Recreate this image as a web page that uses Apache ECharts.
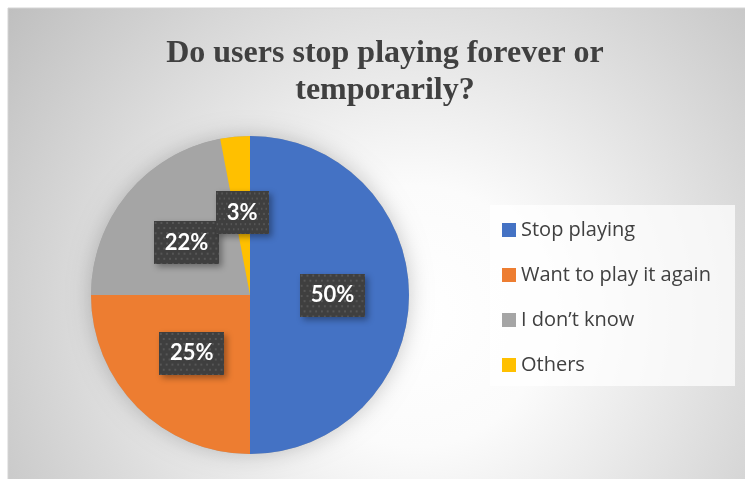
<!DOCTYPE html>
<html>
<head>
<meta charset="utf-8">
<script src="https://cdn.jsdelivr.net/npm/echarts@6/dist/echarts.min.js"></script>
<style>
  html, body { margin: 0; padding: 0; background: #ffffff; }
  #chart { width: 745px; height: 479px; }
</style>
</head>
<body>
<div id="chart"></div>
<script>
// Survey answers
const categories = ['Stop playing', 'Want to play it again', 'I don\u2019t know', 'Others'];
const shares = [50, 25, 22, 3];
const sliceColors = ['#4472C4', '#ED7D31', '#A5A5A5', '#FFC000'];
const chartTitle = 'Do users stop playing forever or\ntemporarily?';

// Dotted dark texture used behind the percentage labels
function makeTexture(w, h) {
  const c = document.createElement('canvas');
  c.width = w; c.height = h;
  const g = c.getContext('2d');
  g.fillStyle = '#3f3f3f';
  g.fillRect(0, 0, w, h);
  g.fillStyle = '#565656';
  for (let y = 1, row = 0; y < h; y += 5, row++) {
    for (let x = (row % 2) * 3 + 1; x < w; x += 6) {
      g.fillRect(x, y, 2, 2);
    }
  }
  return c;
}
const texture = makeTexture(68, 42);

const chart = echarts.init(document.getElementById('chart'), null, { renderer: 'canvas' });

chart.setOption({
  animation: false,
  graphic: [
    {
      type: 'rect', z: -10, silent: true,
      shape: { x: 8, y: 8, width: 740, height: 474 },
      style: {
        fill: {
          type: 'radial', x: 0.55, y: 0.65, r: 1.1,
          colorStops: [
            { offset: 0, color: '#ffffff' },
            { offset: 0.25, color: '#fbfbfb' },
            { offset: 1, color: '#bdbdbd' }
          ]
        },
        stroke: '#d4d4d4', lineWidth: 1
      }
    },
    {
      type: 'rect', z: -5, silent: true,
      shape: { x: 490, y: 205, width: 245, height: 181 },
      style: { fill: 'rgba(255,255,255,0.72)' }
    }
  ],
  title: {
    text: chartTitle,
    left: 380, top: 30, textAlign: 'center',
    textStyle: {
      fontFamily: 'Liberation Serif', fontWeight: 'bold',
      fontSize: 32, lineHeight: 37, color: '#404040'
    }
  },
  legend: {
    orient: 'vertical',
    left: 490, top: 205,
    padding: [15, 12, 13, 12],
    data: categories,
    icon: 'rect',
    itemWidth: 14, itemHeight: 14,
    itemGap: 25,
    selectedMode: false,
    textStyle: {
      fontFamily: 'Open Sans', fontSize: 20, lineHeight: 20, color: '#404040'
    }
  },
  series: [
    {
      // soft drop shadow beneath the pie
      type: 'pie', silent: true, z: 1,
      center: [250, 295], radius: 159,
      label: { show: false }, labelLine: { show: false },
      itemStyle: { color: '#a5a5a5', shadowBlur: 22, shadowColor: 'rgba(0,0,0,0.22)' },
      data: [{ value: 1, name: '_shadow' }]
    },
    {
      type: 'pie', z: 2,
      center: [250, 295], radius: 159,
      startAngle: 90, clockwise: true,
      avoidLabelOverlap: false,
      color: sliceColors,
      emphasis: { disabled: true },
      itemStyle: { borderWidth: 0 },
      label: {
        show: true, position: 'inside',
        formatter: p => p.value + '%',
        fontFamily: 'Lato', fontWeight: 'bold', fontSize: 22, color: '#ffffff',
        backgroundColor: { image: texture },
        padding: [11, 11, 10, 11],
        shadowColor: 'rgba(0,0,0,0.35)', shadowBlur: 6,
        shadowOffsetX: 3, shadowOffsetY: 3
      },
      labelLayout: { hideOverlap: false },
      labelLine: { show: false },
      data: categories.map((name, i) => ({ name, value: shares[i] }))
    }
  ]
});
</script>
</body>
</html>
